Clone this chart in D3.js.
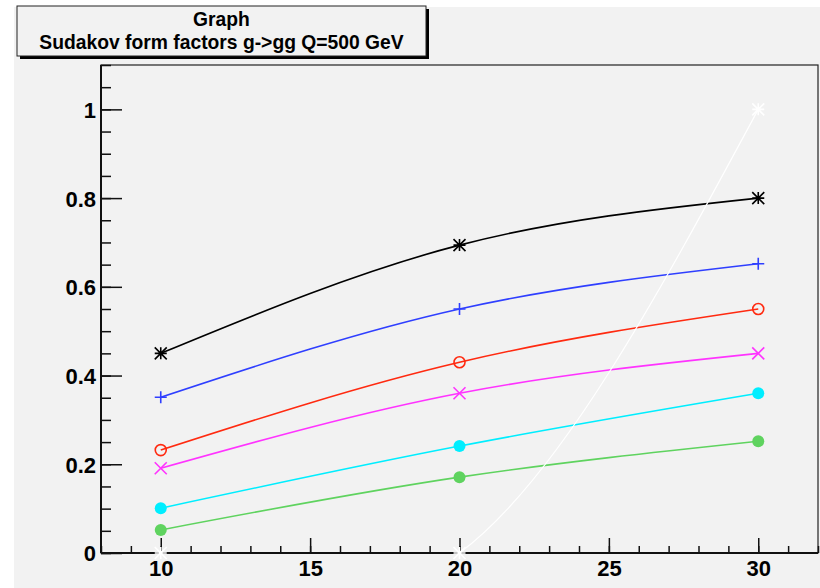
<!DOCTYPE html>
<html>
<head>
<meta charset="utf-8">
<script src="https://cdn.jsdelivr.net/npm/d3@7"></script>
<style>
  body { margin: 0; background: #ffffff; }
  svg { display: block; font-family: "Liberation Sans", Arial, sans-serif; }
</style>
</head>
<body>
<div id="chart"></div>
<script>
// DATA
const xValues = [10, 20, 30];
const seriesNames = ["black", "blue", "red", "magenta", "cyan", "green", "white"];
const blackValues = [0.45, 0.694, 0.8];
const blueValues = [0.351, 0.55, 0.652];
const redValues = [0.232, 0.43, 0.55];
const magentaValues = [0.191, 0.36, 0.45];
const cyanValues = [0.101, 0.241, 0.36];
const greenValues = [0.052, 0.171, 0.252];
const whiteValues = [0, 0, 1.0];
const xTicks = [10, 15, 20, 25, 30];
const yTicks = [0, 0.2, 0.4, 0.6, 0.8, 1];
const titleLines = ["Graph", "Sudakov form factors g->gg Q=500 GeV"];

const WIDTH = 820;
const HEIGHT = 588;
const FRAME = { LEFT: 101, TOP: 65, RIGHT: 818, BOTTOM: 553 };

const series = [
  { values: blackValues, color: "#000000", marker: "star", width: 1.6 },
  { values: blueValues, color: "#2f3fff", marker: "plus", width: 1.6 },
  { values: redValues, color: "#ff2a10", marker: "open", width: 1.6 },
  { values: magentaValues, color: "#ff33ff", marker: "cross", width: 1.6 },
  { values: cyanValues, color: "#00eeff", marker: "dot", width: 1.6 },
  { values: greenValues, color: "#5fd35f", marker: "dot", width: 1.6 },
  { values: whiteValues, color: "#ffffff", marker: "star", width: 1.2 }
];

const svg = d3
  .select("#chart")
  .append("svg")
  .attr("width", WIDTH)
  .attr("height", HEIGHT);

// canvas background
svg.append("rect")
  .attr("x", 14).attr("y", 7)
  .attr("width", WIDTH - 14).attr("height", HEIGHT - 7)
  .attr("fill", "#f2f2f2");

// SCALES
const x = d3.scaleLinear().domain([8, 32]).range([FRAME.LEFT, FRAME.RIGHT]);
const y = d3.scaleLinear().domain([0, 1.1]).range([FRAME.BOTTOM, FRAME.TOP]);

// frame
svg.append("rect")
  .attr("x", FRAME.LEFT).attr("y", FRAME.TOP)
  .attr("width", FRAME.RIGHT - FRAME.LEFT).attr("height", FRAME.BOTTOM - FRAME.TOP)
  .attr("fill", "#f2f2f2")
  .attr("stroke", "#222")
  .attr("stroke-width", 1.2);

svg.append("clipPath").attr("id", "frameClip")
  .append("rect")
  .attr("x", FRAME.LEFT).attr("y", FRAME.TOP)
  .attr("width", FRAME.RIGHT - FRAME.LEFT).attr("height", FRAME.BOTTOM - FRAME.TOP);

// AXES
const yMinor = d3.range(0, 1.1001, 0.05);
svg.append("g")
  .attr("transform", `translate(${FRAME.LEFT},0)`)
  .call(d3.axisLeft(y).tickValues(yMinor).tickSize(-10).tickFormat(""))
  .call((g) => g.select(".domain").remove());
svg.append("g")
  .attr("class", "yAxis")
  .attr("transform", `translate(${FRAME.LEFT},0)`)
  .call(d3.axisLeft(y).tickValues(yTicks).tickSize(-21).tickFormat(d3.format("~g")))
  .call((g) => g.select(".domain").attr("d", `M0,${FRAME.TOP}V${FRAME.BOTTOM}`));

const xMinor = d3.range(8, 32.001, 1);
svg.append("g")
  .attr("transform", `translate(0,${FRAME.BOTTOM})`)
  .call(d3.axisBottom(x).tickValues(xMinor).tickSize(-7).tickFormat(""))
  .call((g) => g.select(".domain").remove());
svg.append("g")
  .attr("class", "xAxis")
  .attr("transform", `translate(0,${FRAME.BOTTOM})`)
  .call(d3.axisBottom(x).tickValues(xTicks).tickSize(-15))
  .call((g) => g.select(".domain").attr("d", `M${FRAME.LEFT},0H${FRAME.RIGHT}`));

svg.selectAll(".tick line").attr("stroke", "#111").attr("stroke-width", 1.5);
svg.selectAll(".domain").attr("stroke", "#111").attr("stroke-width", 2);
svg.selectAll(".yAxis .tick text")
  .attr("font-size", 22).attr("font-weight", "bold").attr("fill", "#000")
  .attr("x", -5).attr("dy", "0.36em");
svg.selectAll(".xAxis .tick text")
  .attr("font-size", 22).attr("font-weight", "bold").attr("fill", "#000")
  .attr("y", 7).attr("dy", "0.71em");

// CURVES
const line = d3.line()
  .x((d, i) => x(xValues[i]))
  .y((d) => y(d))
  .curve(d3.curveNatural);

const plot = svg.append("g");
plot.append("g").attr("clip-path", "url(#frameClip)")
  .selectAll("path")
  .data(series)
  .enter()
  .append("path")
  .attr("d", (s) => line(s.values))
  .attr("fill", "none")
  .attr("stroke", (s) => s.color)
  .attr("stroke-width", (s) => s.width);

// MARKERS
function drawMarker(g, type, color) {
  const r = 6;
  if (type === "dot") {
    g.append("circle").attr("r", r).attr("fill", color);
  } else if (type === "open") {
    g.append("circle").attr("r", r - 0.5).attr("fill", "none").attr("stroke", color).attr("stroke-width", 1.6);
  } else {
    let d = "";
    if (type === "plus" || type === "star") d += `M${-r},0H${r}M0,${-r}V${r}`;
    if (type === "cross" || type === "star") d += `M${-r},${-r}L${r},${r}M${-r},${r}L${r},${-r}`;
    g.append("path").attr("d", d).attr("stroke", color).attr("stroke-width", 1.6).attr("fill", "none");
  }
}

series.forEach((s) => {
  s.values.forEach((v, i) => {
    const g = plot.append("g").attr("transform", `translate(${x(xValues[i])},${y(v)})`);
    drawMarker(g, s.marker, s.color);
  });
});

// TITLE BOX
const box = { x: 17, y: 6, w: 409, h: 50 };
svg.append("rect")
  .attr("x", box.x + 3).attr("y", box.y + 3)
  .attr("width", box.w).attr("height", box.h)
  .attr("fill", "#000");
svg.append("rect")
  .attr("x", box.x).attr("y", box.y)
  .attr("width", box.w).attr("height", box.h)
  .attr("fill", "#f2f2f2")
  .attr("stroke", "#222")
  .attr("stroke-width", 1);
svg.selectAll(".title")
  .data(titleLines)
  .enter()
  .append("text")
  .attr("class", "title")
  .attr("x", box.x + box.w / 2)
  .attr("y", (d, i) => box.y + 20 + i * 23)
  .attr("text-anchor", "middle")
  .attr("font-size", 19.3)
  .attr("font-weight", "bold")
  .attr("fill", "#000")
  .text((d) => d);
</script>
</body>
</html>
